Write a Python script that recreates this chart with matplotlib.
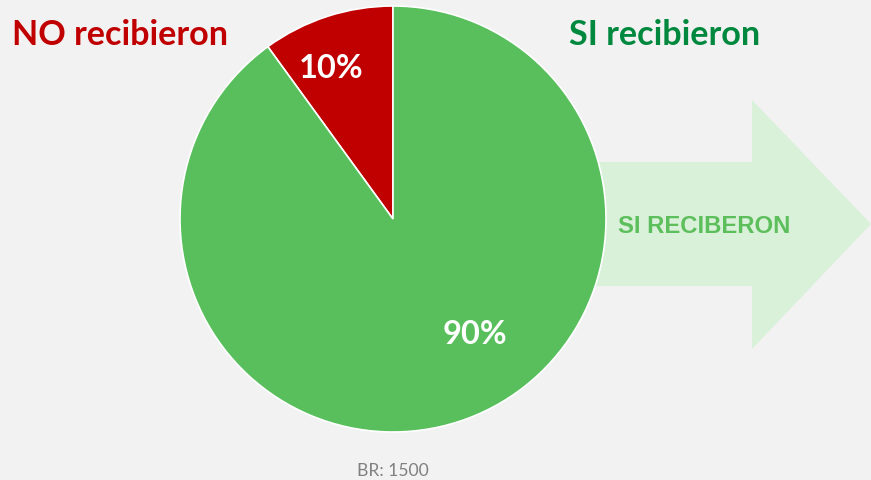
import matplotlib.pyplot as plt
from matplotlib.patches import Polygon

# data
labels = ['NO recibieron', 'SI recibieron']
values = [10, 90]
pct_labels = ['10%', '90%']
colors = ['#c00000', '#58bf5c']
base_note = 'BR: 1500'

W, H = 871, 481
fig = plt.figure(figsize=(W / 100, H / 100), dpi=100, facecolor='#f2f2f2')
ax = fig.add_axes([0, 0, 1, 1])

def py(y):
    # pixel row (from top) -> data y
    return H - y

# big arrow behind the pie
arrow_pts = [(560, py(163)), (752, py(163)), (752, py(101)), (871, py(225)),
             (752, py(350)), (752, py(287)), (560, py(287))]
ax.add_patch(Polygon(arrow_pts, closed=True, facecolor='#d9f0d9', edgecolor='none', zorder=1))
ax.text(704, py(227), 'SI RECIBERON', color='#5cbf5c', fontsize=17.2, fontweight='bold',
        family='Liberation Sans', ha='center', va='center', zorder=3)

# pie
wedges, _ = ax.pie(values, colors=colors, startangle=90, counterclock=True,
                   center=(393, py(220)), radius=213, frame=True,
                   wedgeprops=dict(edgecolor='white', linewidth=1.2))
for w in wedges:
    w.set_zorder(2)
ax.set_xlim(0, W)
ax.set_ylim(0, H)
ax.set_aspect('equal')
ax.axis('off')

ax.text(331, py(68), pct_labels[0], color='white', fontsize=23.5, fontweight='bold',
        family='Lato', ha='center', va='center', zorder=4)
ax.text(475, py(334), pct_labels[1], color='white', fontsize=23.5, fontweight='bold',
        family='Lato', ha='center', va='center', zorder=4)

# titles
ax.text(12, py(35), labels[0], color='#c00000', fontsize=24.6, fontweight='bold',
        family='Lato', ha='left', va='center', zorder=4)
ax.text(665, py(35), labels[1], color='#00893e', fontsize=24.6, fontweight='bold',
        family='Lato', ha='center', va='center', zorder=4)

ax.text(393, py(471), base_note, color='#808080', fontsize=12.6, family='Lato',
        ha='center', va='center')

fig.savefig('out.png', dpi=100, facecolor=fig.get_facecolor())
